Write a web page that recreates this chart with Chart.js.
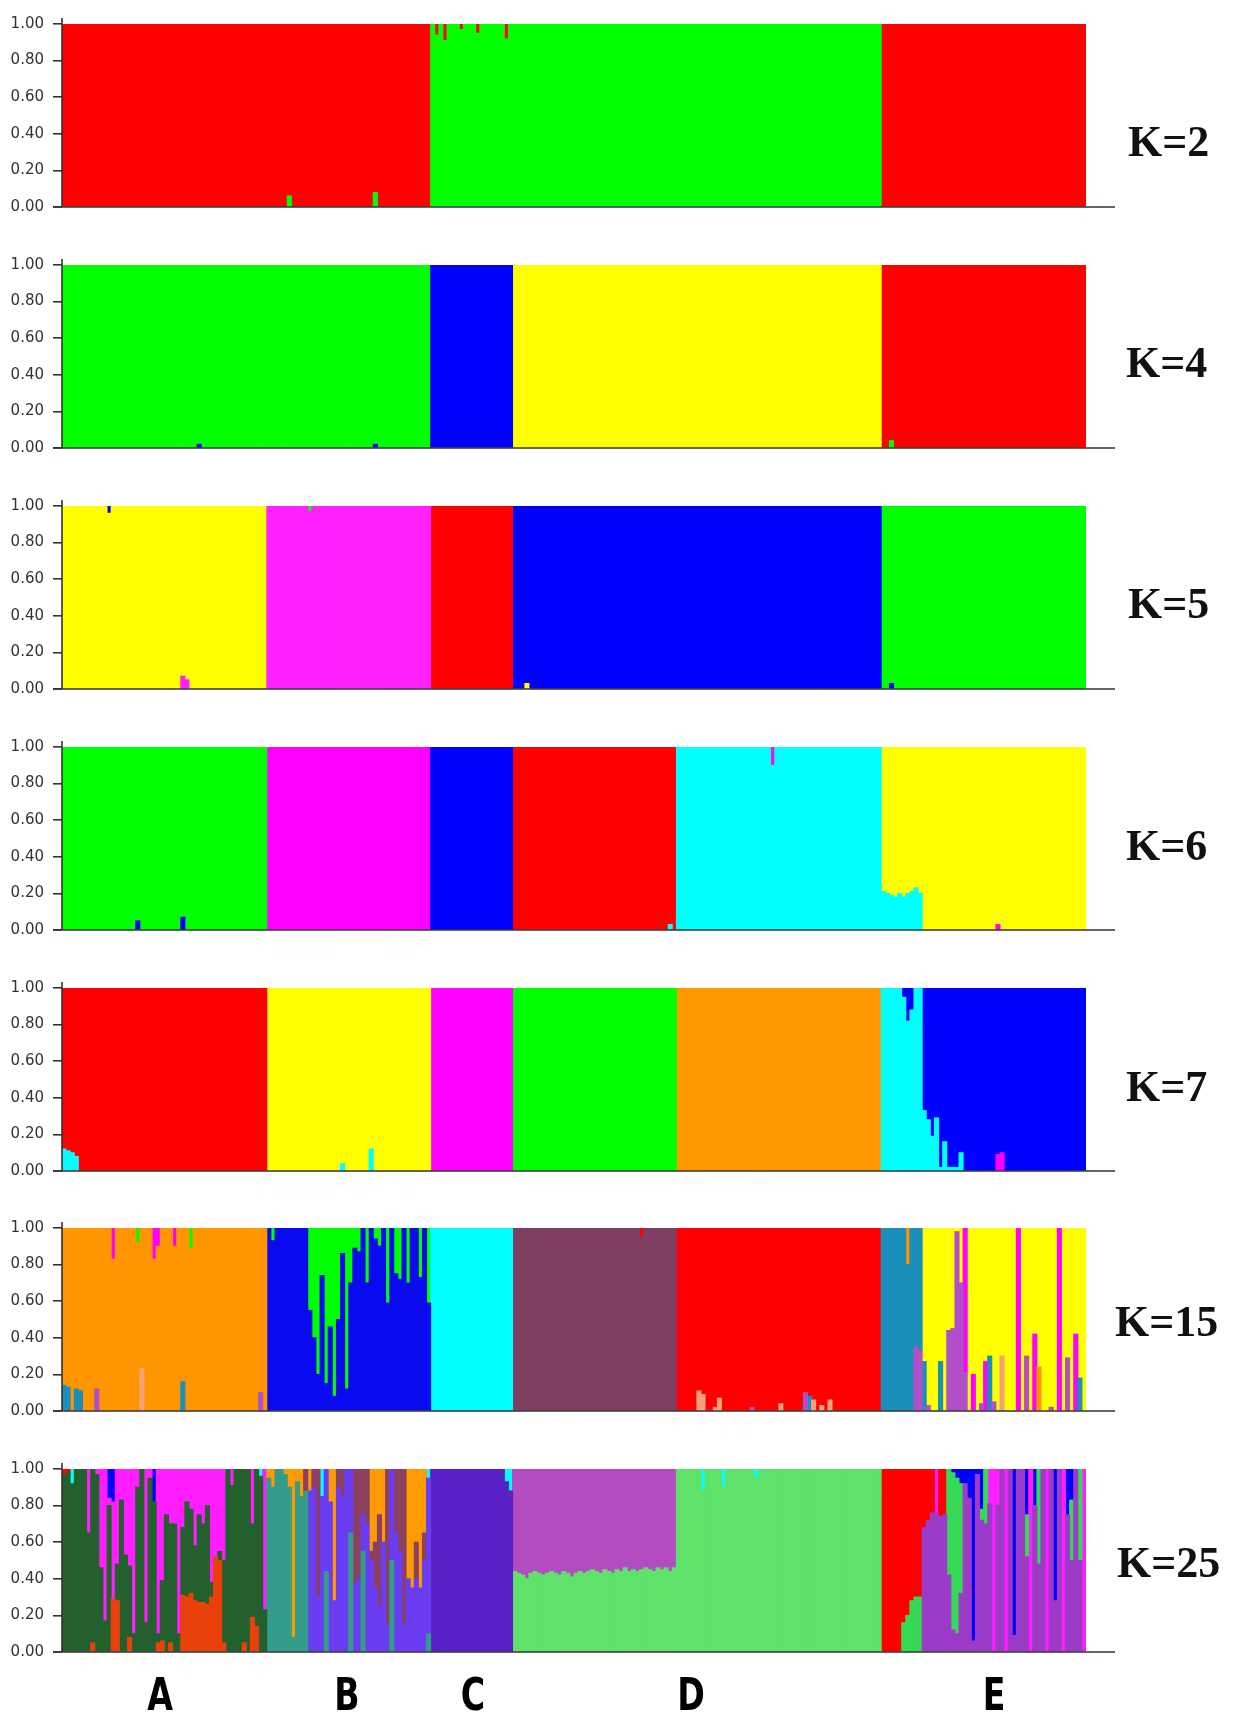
<!DOCTYPE html>
<html><head><meta charset="utf-8">
<script src="https://cdn.jsdelivr.net/npm/chart.js@4.4.1/dist/chart.umd.min.js"></script>
<style>
body{margin:0;background:#fff;width:1236px;height:1720px;position:relative;overflow:hidden}
canvas.panel{position:absolute;left:0}
.klab{position:absolute;font-family:"Liberation Serif","Times New Roman",serif;font-weight:bold;font-size:44px;line-height:44px;color:#111;white-space:nowrap}
.glab{position:absolute;font-family:"Liberation Sans Narrow","DejaVu Sans Condensed",sans-serif;font-stretch:condensed;font-weight:bold;font-size:45px;line-height:45px;color:#000;transform:translateX(-50%) scaleX(0.82)}
</style></head><body>
<script>
// ---------------- DATA ----------------
const individualCount = 250;            // A 50, B 40, C 20, D 90, E 50
const groupNames = ['A','B','C','D','E'];
const kNames = ['K=2','K=4','K=5','K=6','K=7','K=15','K=25'];
const yTickValues = [0, 0.2, 0.4, 0.6, 0.8, 1.0];

// K=2
const k2Keys = ['g','r'];
const k2Colors = ['#00FF00','#FF0000'];
const k2Runs = [
 [55,{r:1}],[1,{g:.06,r:.94}],[20,{r:1}],[1,{g:.08,r:.92}],[13,{r:1}],
 [1,{g:1}],[1,{g:.94,r:.06}],[1,{g:1}],[1,{g:.91,r:.09}],[3,{g:1}],[1,{g:.97,r:.03}],
 [3,{g:1}],[1,{g:.95,r:.05}],[6,{g:1}],[1,{g:.92,r:.08}],[91,{g:1}],
 [50,{r:1}]
];

// K=4
const k4Keys = ['b','g','y','r'];
const k4Colors = ['#0000FF','#00FF00','#FFFF00','#FF0000'];
const k4Runs = [
 [33,{g:1}],[1,{b:.02,g:.98}],[42,{g:1}],[1,{b:.02,g:.98}],[13,{g:1}],
 [20,{b:1}],
 [90,{y:1}],
 [2,{r:1}],[1,{g:.04,r:.96}],[47,{r:1}]
];

// K=5
const k5Keys = ['m','y','r','b','g'];
const k5Colors = ['#FF22FF','#FFFF00','#FF0000','#0000FF','#00FF00'];
const k5Runs = [
 [11,{y:1}],[1,{y:.96,b:.04}],[17,{y:1}],[1,{m:.07,y:.93}],[1,{m:.05,y:.95}],[19,{y:1}],
 [10,{m:1}],[1,{m:.97,g:.03}],[29,{m:1}],
 [20,{r:1}],
 [3,{b:1}],[1,{y:.03,b:.97}],[86,{b:1}],
 [2,{g:1}],[1,{b:.03,g:.97}],[47,{g:1}]
];

// K=6
const k6Keys = ['c','b','g','r','m','y'];
const k6Colors = ['#00FFFF','#0000FF','#00FF00','#FF0000','#FF00FF','#FFFF00'];
const k6Runs = [
 [18,{g:1}],[1,{b:.05,g:.95}],[10,{g:1}],[1,{b:.07,g:.93}],[20,{g:1}],
 [40,{m:1}],
 [20,{b:1}],
 [38,{r:1}],[1,{c:.03,r:.97}],[1,{r:1}],
 [23,{c:1}],[1,{c:.9,m:.1}],[26,{c:1}],
 [1,{c:.21,y:.79}],[1,{c:.2,y:.8}],[1,{c:.19,y:.81}],[1,{c:.18,y:.82}],[1,{c:.2,y:.8}],
 [1,{c:.18,y:.82}],[1,{c:.2,y:.8}],[1,{c:.21,y:.79}],[1,{c:.23,y:.77}],[1,{c:.2,y:.8}],
 [18,{y:1}],[1,{m:.03,y:.97}],[21,{y:1}]
];

// K=7
const k7Keys = ['c','r','y','m','g','o','b'];
const k7Colors = ['#00FFFF','#FF0000','#FFFF00','#FF00FF','#00FF00','#FF9900','#0000FF'];
const k7Runs = [
 [1,{c:.12,r:.88}],[1,{c:.11,r:.89}],[1,{c:.1,r:.9}],[1,{c:.08,r:.92}],[46,{r:1}],
 [18,{y:1}],[1,{c:.04,y:.96}],[6,{y:1}],[1,{c:.12,y:.88}],[14,{y:1}],
 [20,{m:1}],
 [40,{g:1}],
 [50,{o:1}],
 [5,{c:1}],[1,{c:.95,b:.05}],[1,{c:.82,b:.18}],[1,{c:.88,b:.12}],[2,{c:1}],
 [1,{c:.33,b:.67}],[1,{c:.28,b:.72}],[1,{c:.19,b:.81}],[1,{c:.29,b:.71}],[1,{c:.02,b:.98}],
 [1,{c:.16,b:.84}],[3,{c:.02,b:.98}],[1,{c:.1,b:.9}],[8,{b:1}],[1,{m:.09,b:.91}],
 [1,{m:.1,b:.9}],[20,{b:1}]
];

// K=15
const k15Keys = ['p','s','t','o','b','c','mr','r','g','m','y'];
const k15Colors = ['#B04FC8','#F4A27C','#1B8FBA','#FF9600','#0A0AF0','#00FFFF','#7E3F60','#FF0000','#00FF00','#FF00FF','#FFFF00'];
const k15Runs = [
 // A
 [1,{t:.14,o:.86}],[1,{t:.13,o:.87}],[1,{o:1}],[1,{t:.12,o:.88}],[1,{t:.11,o:.89}],[3,{o:1}],
 [1,{p:.12,o:.88}],[3,{o:1}],[1,{o:.83,m:.17}],[5,{o:1}],[1,{o:.92,g:.08}],[1,{s:.23,o:.77}],
 [2,{o:1}],[1,{o:.83,m:.17}],[1,{o:.9,m:.1}],[3,{o:1}],[1,{o:.9,m:.1}],[1,{o:1}],
 [1,{t:.16,o:.84}],[1,{o:1}],[1,{o:.89,g:.11}],[16,{o:1}],[1,{p:.1,o:.9}],[1,{o:1}],
 // B
 [1,{b:1}],[1,{b:.93,g:.07}],[8,{b:1}],[1,{b:.55,g:.45}],[1,{b:.4,g:.6}],[1,{b:.2,g:.8}],
 [1,{b:.74,g:.26}],[1,{b:.15,g:.85}],[1,{b:.46,g:.54}],[1,{b:.08,g:.92}],[1,{b:.5,g:.5}],
 [1,{b:.86,g:.14}],[1,{b:.12,g:.88}],[1,{b:.7,g:.3}],[1,{b:.89,g:.11}],[1,{b:.87,g:.13}],
 [1,{b:1}],[1,{b:.7,g:.3}],[1,{b:1}],[1,{b:.94,g:.06}],[1,{b:.9,g:.1}],[1,{b:1}],
 [1,{b:.59,g:.41}],[1,{b:1}],[1,{b:.75,g:.25}],[1,{b:.72,g:.28}],[1,{b:1}],[1,{b:.7,g:.3}],
 [2,{b:1}],[1,{b:.73,g:.27}],[1,{b:1}],[1,{b:.59,g:.41}],
 // C
 [20,{c:1}],
 // D
 [31,{mr:1}],[1,{mr:.95,r:.05}],[8,{mr:1}],
 [5,{r:1}],[1,{s:.11,r:.89}],[1,{s:.09,r:.91}],[2,{r:1}],[1,{s:.02,r:.98}],[1,{s:.07,r:.93}],
 [7,{r:1}],[1,{p:.02,r:.98}],[6,{r:1}],[1,{s:.04,r:.96}],[5,{r:1}],[1,{p:.1,r:.9}],
 [1,{t:.08,r:.92}],[1,{s:.06,r:.94}],[1,{r:1}],[1,{s:.03,r:.97}],[1,{r:1}],[1,{s:.06,r:.94}],
 [12,{r:1}],
 // E
 [6,{t:1}],[1,{t:.8,o:.2}],[1,{t:1}],[1,{p:.35,t:.65}],[1,{p:.33,t:.67}],
 [1,{t:.27,y:.73}],[1,{p:.03,y:.97}],[2,{y:1}],[1,{t:.27,y:.73}],[1,{y:1}],
 [1,{p:.44,y:.56}],[1,{p:.45,y:.55}],[1,{p:.98,y:.02}],[1,{p:.7,y:.3}],[1,{p:.21,m:.79}],
 [1,{y:1}],[1,{m:.2,y:.8}],[1,{y:1}],[1,{p:.04,y:.96}],[1,{m:.27,y:.73}],[1,{t:.3,y:.7}],
 [1,{p:.05,y:.95}],[1,{y:1}],[1,{s:.3,y:.7}],[3,{y:1}],[1,{m:1}],[1,{y:1}],
 [1,{p:.3,y:.7}],[1,{y:1}],[1,{m:.42,y:.58}],[1,{o:.24,y:.76}],[2,{y:1}],[1,{p:.02,y:.98}],
 [1,{y:1}],[1,{m:1}],[1,{y:1}],[1,{p:.29,y:.71}],[1,{y:1}],[1,{m:.42,y:.58}],
 [1,{t:.18,y:.82}],[1,{y:1}]
];

// K=25
const k25Keys = ['or','dg','te','vi','ind','lg','pe','ge','rd','mr','og','pd','mg','bl','cy'];
const k25Colors = ['#E8420A','#23602D','#349C8A','#6A3DF2','#5820C6','#5FE26A','#9B3BC8','#36D955',
                   '#FF0000','#8C3F5E','#FF9B00','#B34CC0','#FF1EFF','#0000FF','#00FFFF'];
const k25Runs = [
 // A
 [1,{dg:.97,rd:.03}],[1,{dg:.98,rd:.02}],[1,{dg:.92,cy:.08}],[3,{dg:1}],[1,{dg:.65,mg:.35}],
 [1,{or:.05,dg:.95}],[1,{dg:.97,mg:.03}],[1,{dg:.46,mg:.54}],[1,{dg:.17,mg:.83}],
 [1,{dg:.8,mg:.04,bl:.16}],[1,{or:.29,mg:.53,bl:.18}],[1,{or:.28,dg:.2,mg:.52}],
 [1,{dg:.83,mg:.17}],[1,{dg:.53,mg:.47}],[1,{or:.08,dg:.39,mg:.53}],[1,{dg:.1,mg:.9}],
 [1,{dg:.9,mg:.1}],[1,{dg:1}],[1,{dg:.16,mg:.84}],[1,{dg:.95,mg:.05}],[1,{dg:.82,bl:.18}],
 [1,{or:.05,dg:.05,mg:.9}],[1,{or:.06,dg:.33,mg:.61}],[1,{dg:.75,mg:.25}],
 [1,{or:.05,dg:.65,mg:.3}],[1,{dg:.7,mg:.3}],[1,{dg:.1,mg:.9}],[1,{or:.31,dg:.37,mg:.32}],
 [1,{or:.3,dg:.52,mg:.18}],[1,{or:.32,dg:.46,mg:.22}],[1,{or:.28,dg:.3,mg:.42}],
 [1,{or:.27,dg:.48,mg:.25}],[1,{or:.27,dg:.43,mg:.3}],[1,{or:.26,dg:.54,mg:.2}],
 [1,{or:.3,dg:.08,mg:.62}],[1,{or:.52,mg:.48}],[1,{or:.5,dg:.05,mg:.45}],
 [1,{or:.05,dg:.45,mg:.5}],[1,{dg:1}],[1,{dg:.91,mg:.09}],[2,{dg:1}],[1,{or:.05,dg:.95}],
 [1,{dg:1}],[1,{or:.19,dg:.51,mg:.3}],[1,{or:.14,dg:.86}],[1,{dg:.96,cy:.04}],[1,{dg:.23,mg:.77}],
 // B
 [1,{te:.95,og:.05}],[1,{te:.9,og:.1}],[2,{te:1}],[1,{te:.97,og:.03}],[1,{te:.9,og:.1}],
 [1,{te:.08,og:.92}],[1,{te:.93,og:.07}],[1,{te:.85,og:.15}],[1,{te:.88,mr:.12}],
 [1,{vi:.88,og:.12}],[1,{vi:.9,mr:.1}],[1,{vi:.3,mr:.7}],[1,{vi:.85,cy:.15}],[1,{te:.44,vi:.56}],
 [1,{vi:.82,og:.18}],[1,{vi:.28,og:.72}],[1,{vi:.9,mr:.1}],[1,{vi:.85,mr:.15}],[1,{vi:1}],
 [1,{te:.65,vi:.35}],[1,{vi:.37,mr:.63}],[1,{vi:.4,mr:.6}],[1,{te:.55,vi:.2,mr:.25}],
 [1,{vi:.7,mr:.3}],[1,{vi:.5,mr:.05,og:.45}],[1,{vi:.35,mr:.25,og:.4}],[1,{vi:.25,mr:.5,og:.25}],
 [1,{vi:.6,og:.4}],[1,{vi:.15,mr:.85}],[1,{te:.5,vi:.5}],[1,{vi:.65,mr:.35}],[1,{vi:.55,mr:.45}],
 [1,{vi:.15,mr:.85}],[1,{vi:.4,og:.6}],[1,{vi:.35,og:.65}],[1,{vi:.4,mr:.2,og:.4}],
 [1,{vi:.35,og:.65}],[1,{vi:.5,mr:.15,og:.35}],[1,{te:.1,vi:.85,cy:.05}],
 // C
 [18,{ind:1}],[1,{ind:.93,cy:.07}],[1,{ind:.88,cy:.12}],
 // D (first part: two clusters)
 [1,{lg:.44,pd:.56}],[1,{lg:.43,pd:.57}],[1,{lg:.42,pd:.58}],[1,{lg:.40,pd:.60}],[1,{lg:.43,pd:.57}],
 [1,{lg:.44,pd:.56}],[1,{lg:.43,pd:.57}],[1,{lg:.42,pd:.58}],[1,{lg:.43,pd:.57}],[1,{lg:.44,pd:.56}],
 [1,{lg:.43,pd:.57}],[1,{lg:.42,pd:.58}],[1,{lg:.44,pd:.56}],[1,{lg:.43,pd:.57}],[1,{lg:.41,pd:.59}],
 [1,{lg:.43,pd:.57}],[1,{lg:.44,pd:.56}],[1,{lg:.43,pd:.57}],[1,{lg:.44,pd:.56}],[1,{lg:.45,pd:.55}],
 [1,{lg:.44,pd:.56}],[1,{lg:.43,pd:.57}],[1,{lg:.45,pd:.55}],[1,{lg:.44,pd:.56}],[1,{lg:.43,pd:.57}],
 [1,{lg:.45,pd:.55}],[1,{lg:.44,pd:.56}],[1,{lg:.46,pd:.54}],[1,{lg:.44,pd:.56}],[1,{lg:.45,pd:.55}],
 [1,{lg:.44,pd:.56}],[1,{lg:.45,pd:.55}],[1,{lg:.46,pd:.54}],[1,{lg:.45,pd:.55}],[1,{lg:.44,pd:.56}],
 [1,{lg:.46,pd:.54}],[1,{lg:.45,pd:.55}],[1,{lg:.46,pd:.54}],[1,{lg:.44,pd:.56}],[1,{lg:.46,pd:.54}],
 // D (second part)
 [6,{lg:1}],[1,{lg:.88,cy:.12}],[4,{lg:1}],[1,{lg:.9,cy:.1}],[7,{lg:1}],[1,{lg:.95,cy:.05}],[30,{lg:1}],
 // E
 [5,{rd:1}],[1,{ge:.16,rd:.84}],[1,{ge:.2,rd:.8}],[1,{ge:.28,rd:.72}],[1,{ge:.3,rd:.7}],
 [1,{ge:.3,rd:.7}],[1,{pe:.68,rd:.32}],[1,{pe:.72,rd:.28}],[1,{pe:.76,rd:.24}],[1,{pe:.76,mg:.24}],
 [1,{pe:.74,rd:.26}],[1,{pe:.75,rd:.25}],[1,{pe:.42,ge:.58}],[1,{pe:.12,ge:.86,bl:.02}],
 [1,{pe:.1,ge:.85,bl:.05}],[1,{pe:.32,ge:.6,bl:.08}],[1,{pe:.92,bl:.08}],[1,{pe:.84,bl:.16}],
 [1,{pe:.06,bl:.94}],[1,{pe:.97,bl:.03}],[1,{pe:.72,ge:.06,bl:.22}],[1,{pe:.7,ge:.3}],
 [1,{pe:.81,mg:.19}],[1,{mg:1}],[1,{pe:.8,mg:.2}],[1,{pe:1}],[1,{mg:1}],[1,{pe:1}],
 [1,{pe:.09,bl:.91}],[2,{pe:1}],[1,{pe:.52,ge:.23,bl:.25}],[1,{mg:1}],[1,{pe:.8,bl:.2}],
 [1,{pe:.48,ge:.52}],[1,{pe:1}],[1,{mg:1}],[1,{pe:1}],[1,{pe:.28,bl:.72}],[1,{pe:1}],
 [1,{mg:1}],[1,{pe:.75,bl:.25}],[1,{pe:.5,ge:.33,bl:.17}],[1,{pe:1}],[1,{pe:.5,ge:.5}],[1,{mg:1}]
];

const panels = [
 {keys:k2Keys, colors:k2Colors, runs:k2Runs},
 {keys:k4Keys, colors:k4Colors, runs:k4Runs},
 {keys:k5Keys, colors:k5Colors, runs:k5Runs},
 {keys:k6Keys, colors:k6Colors, runs:k6Runs},
 {keys:k7Keys, colors:k7Colors, runs:k7Runs},
 {keys:k15Keys, colors:k15Colors, runs:k15Runs},
 {keys:k25Keys, colors:k25Colors, runs:k25Runs}
];

// ---------------- LAYOUT ----------------
const areaTops = [18, 259, 500, 741, 982, 1222, 1463];
const areaHeight = 191;
const padTop = 12, padBottom = 16;
const kLabelPos = [[1128,143],[1126,364],[1128,605],[1126,847],[1126,1088],[1115,1323],[1117,1564]];
const groupLabelX = [160, 347, 473, 691, 994];
const groupLabelTop = 1672;

const individualIds = Array.from({length: individualCount}, (_, i) => 'ind' + (i + 1));

function buildDatasets(keys, colors, runs) {
  const ds = keys.map((k, i) => ({
    label: k, data: [], backgroundColor: colors[i], borderWidth: 0,
    categoryPercentage: 1, barPercentage: 1, inflateAmount: 0.5, clip: 0
  }));
  runs.forEach(([n, q]) => {
    for (let j = 0; j < n; j++) keys.forEach((k, i) => ds[i].data.push(q[k] != null ? q[k] : null));
  });
  return ds;
}

const axisPlugin = {
  id: 'axisLines',
  afterDraw(chart) {
    const {ctx, chartArea: a} = chart;
    ctx.save();
    ctx.strokeStyle = '#333';
    ctx.lineWidth = 1.6;
    ctx.beginPath();
    ctx.moveTo(a.left, a.top - 6); ctx.lineTo(a.left, a.bottom);
    ctx.moveTo(a.left - 9, a.bottom); ctx.lineTo(a.right + 29, a.bottom);
    ctx.stroke();
    ctx.restore();
  }
};

panels.forEach((p, idx) => {
  const cv = document.createElement('canvas');
  cv.className = 'panel';
  const h = padTop + areaHeight + padBottom;
  cv.width = 1236; cv.height = h;
  cv.style.width = '1236px'; cv.style.height = h + 'px';
  cv.style.top = (areaTops[idx] - padTop) + 'px';
  document.body.appendChild(cv);
  new Chart(cv, {
    type: 'bar',
    data: {labels: individualIds, datasets: buildDatasets(p.keys, p.colors, p.runs)},
    options: {
      responsive: false, animation: false,
      layout: {padding: {top: padTop, bottom: padBottom, left: 0, right: 150}},
      plugins: {legend: {display: false}, tooltip: {enabled: false}},
      scales: {
        x: {stacked: true, display: false},
        y: {
          stacked: true, min: 0, max: 1,
          afterFit: s => { s.width = 62; },
          afterBuildTicks: s => { s.ticks = yTickValues.map(v => ({value: v})); },
          border: {display: false},
          grid: {drawOnChartArea: false, drawTicks: true, tickLength: 9, color: '#333', lineWidth: 1.6},
          ticks: {padding: 9, color: '#333', font: {family: 'DejaVu Sans', size: 15},
                  callback: v => Number(v).toFixed(2)}
        }
      }
    },
    plugins: [axisPlugin]
  });
});

kNames.forEach((t, i) => {
  const d = document.createElement('div');
  d.className = 'klab'; d.textContent = t;
  d.style.left = kLabelPos[i][0] + 'px';
  d.style.top = (kLabelPos[i][1] - 23) + 'px';
  document.body.appendChild(d);
});
groupNames.forEach((t, i) => {
  const d = document.createElement('div');
  d.className = 'glab'; d.textContent = t;
  d.style.left = groupLabelX[i] + 'px';
  d.style.top = groupLabelTop + 'px';
  document.body.appendChild(d);
});
</script>
</body></html>
